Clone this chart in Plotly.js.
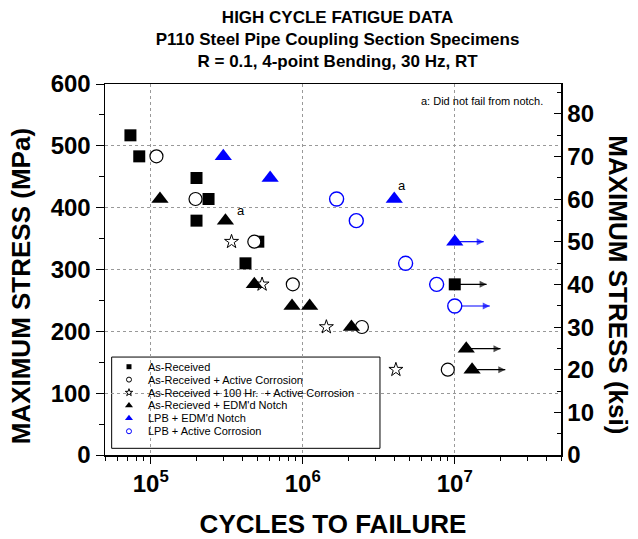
<!DOCTYPE html>
<html>
<head>
<meta charset="utf-8">
<script src="https://cdn.plot.ly/plotly-3.0.1.min.js"></script>
<style>html,body{margin:0;padding:0;background:#fff}#chart{width:638px;height:539px}</style>
</head>
<body>
<div id="chart"></div>
<script>
// ---- data (cycles to failure, maximum stress in MPa) ----
const asReceivedN = [7.35e4, 8.4e4, 2.0e5, 2.4e5, 2.0e5, 5.1e5, 4.2e5, 1.0e7];
const asReceivedS = [517, 483, 448, 414, 379, 345, 310, 276];

const activeCorrN = [1.09e5, 1.97e5, 4.8e5, 8.6e5, 2.45e6, 9.0e6];
const activeCorrS = [483, 414, 345, 276, 207, 138];

const corr100hN = [3.4e5, 5.4e5, 1.43e6, 4.1e6];
const corr100hS = [345, 276, 207, 138];

const edmNotchN = [1.15e5, 3.1e5, 4.8e5, 8.5e5, 1.11e6, 2.09e6, 1.19e7, 1.3e7];
const edmNotchS = [414, 379, 276, 241, 241, 207, 172, 138];

const lpbNotchN = [3.0e5, 6.1e5, 4.0e6, 1.0e7];
const lpbNotchS = [483, 448, 414, 345];

const lpbCorrN = [1.67e6, 2.25e6, 4.75e6, 7.6e6, 1.0e7];
const lpbCorrS = [414, 379, 310, 276, 241];

// run-outs (did not fail): start point and arrow end
const runoutN    = [1.0e7, 1.0e7, 1.0e7, 1.19e7, 1.3e7];
const runoutS    = [276, 345, 241, 172, 138];
const runoutEndN = [1.62e7, 1.55e7, 1.7e7, 2.0e7, 2.15e7];
const runoutSeries = [0, 4, 5, 3, 3];

// "a" notes: did not fail from notch
const noteN = [3.1e5, 4.0e6];
const noteS = [379, 414];

const seriesNames = [
  'As-Received',
  'As-Received + Active Corrosion',
  'As-Received + 100 Hr.  + Active Corrosion',
  "As-Recieved + EDM'd Notch",
  "LPB + EDM'd Notch",
  'LPB + Active Corrosion'
];

const MPA_PER_KSI = 6.894757;
const yMax = 600;

// ---- styles ----
const FONT = 'Liberation Sans, Arial, Helvetica, sans-serif';
const BLUE = '#0000ff';
const seriesColors = ['#000', '#000', '#000', '#000', BLUE, BLUE];
const styles = [
  {symbol: 'square', size: 12, color: '#000', line: {width: 0}},
  {symbol: 'circle', size: 13, color: '#fff', line: {color: '#000', width: 1.2}},
  {symbol: 'star', size: 10.5, color: '#fff', line: {color: '#000', width: 1}},
  {symbol: 'triangle-up', size: 15, color: '#000', line: {width: 0}},
  {symbol: 'triangle-up', size: 15, color: BLUE, line: {width: 0}},
  {symbol: 'circle', size: 14, color: '#fff', line: {color: BLUE, width: 1.4}}
];
const legendStyles = [
  {symbol: 'square', size: 5, color: '#000', line: {width: 0}},
  {symbol: 'circle', size: 5, color: '#fff', line: {color: '#000', width: 1}},
  {symbol: 'star', size: 5.5, color: '#fff', line: {color: '#000', width: 1}},
  {symbol: 'triangle-up', size: 7, color: '#000', line: {width: 0}},
  {symbol: 'triangle-up', size: 7, color: BLUE, line: {width: 0}},
  {symbol: 'circle', size: 5, color: '#fff', line: {color: BLUE, width: 1}}
];

// legend box layout (fractions of the plot area)
const LEG = {x0: 0.0146, x1: 0.603, y0: 0.018, y1: 0.264, symX: 0.0526, textX: 0.09, row0: 0.238, rowStep: 0.0348};

const dataX = [asReceivedN, activeCorrN, corr100hN, edmNotchN, lpbNotchN, lpbCorrN];
const dataY = [asReceivedS, activeCorrS, corr100hS, edmNotchS, lpbNotchS, lpbCorrS];

const traces = [];
// run-out arrows (drawn first, under the markers)
runoutN.forEach((n, i) => {
  const c = seriesColors[runoutSeries[i]];
  traces.push({
    type: 'scatter', mode: 'lines+markers', x: [n, runoutEndN[i]], y: [runoutS[i], runoutS[i]],
    line: {color: c, width: 1.2}, showlegend: false, hoverinfo: 'skip',
    marker: {symbol: 'arrow-right', size: [0, 7], color: c, line: {width: 0}}
  });
});
// data traces
dataX.forEach((xs, i) => {
  traces.push({
    type: 'scatter', mode: 'markers', x: xs, y: dataY[i],
    name: seriesNames[i], showlegend: false, cliponaxis: false,
    marker: styles[i]
  });
});
// carrier for the ksi axis
traces.push({type: 'scatter', mode: 'markers', x: [null], y: [null], yaxis: 'y2', showlegend: false, hoverinfo: 'skip'});
// legend symbols (on an overlay 0..1 frame)
seriesNames.forEach((nm, i) => {
  traces.push({
    type: 'scatter', mode: 'markers', xaxis: 'x3', yaxis: 'y3',
    x: [LEG.symX], y: [LEG.row0 - i * LEG.rowStep], name: nm, showlegend: false, hoverinfo: 'skip',
    marker: legendStyles[i]
  });
});

const annotations = [];
const noteShift = [[16, 10], [8, 14]];
noteN.forEach((n, i) => {
  annotations.push({
    xref: 'x', yref: 'y', x: Math.log10(n), y: noteS[i], text: 'a', showarrow: false,
    xshift: noteShift[i][0], yshift: noteShift[i][1],
    font: {family: FONT, size: 13, color: '#000'}
  });
});
seriesNames.forEach((nm, i) => {
  annotations.push({
    xref: 'paper', yref: 'paper', x: LEG.textX, y: LEG.row0 - i * LEG.rowStep,
    xanchor: 'left', yanchor: 'middle', text: nm, showarrow: false,
    font: {family: FONT, size: 11, color: '#000'}
  });
});
annotations.push({
  xref: 'paper', yref: 'paper', x: 0.965, y: 0.955, xanchor: 'right', yanchor: 'middle',
  text: 'a: Did not fail from notch.', showarrow: false,
  font: {family: FONT, size: 11, color: '#000'}
});
annotations.push({
  xref: 'paper', yref: 'paper', x: -0.184, y: 0.455, xanchor: 'center', yanchor: 'middle',
  text: 'MAXIMUM STRESS (MPa)', textangle: -90, showarrow: false,
  font: {family: FONT, size: 26, weight: 'bold', color: '#000'}
});
annotations.push({
  xref: 'paper', yref: 'paper', x: 1.125, y: 0.46, xanchor: 'center', yanchor: 'middle',
  text: 'MAXIMUM STRESS (ksi)', textangle: 90, showarrow: false,
  font: {family: FONT, size: 26, weight: 'bold', color: '#000'}
});

const tickFont = {family: FONT, size: 24, weight: 'bold', color: '#000'};

const layout = {
  width: 638, height: 539,
  margin: {l: 105, r: 77, t: 84, b: 84, pad: 0},
  paper_bgcolor: '#fff', plot_bgcolor: '#fff',
  font: {family: FONT, color: '#000'},
  showlegend: false,
  title: {
    text: 'HIGH CYCLE FATIGUE DATA<br>P110 Steel Pipe Coupling Section Specimens<br>R = 0.1, 4-point Bending, 30 Hz, RT',
    font: {family: FONT, size: 17, weight: 'bold', color: '#000'},
    xref: 'paper', x: 0.51, xanchor: 'center',
    yref: 'container', y: 0.957, yanchor: 'top'
  },
  xaxis: {
    type: 'log', range: [Math.log10(5e4), Math.log10(5e7)],
    tickmode: 'array', tickvals: [1e5, 1e6, 1e7],
    ticktext: ['10<sup>5</sup>', '10<sup>6</sup>', '10<sup>7</sup>'],
    ticks: 'outside', ticklen: 7, tickwidth: 1, tickcolor: '#000',
    minor: {dtick: 'D1', ticks: 'outside', ticklen: 4, tickwidth: 1, tickcolor: '#000', showgrid: false},
    showline: true, linecolor: '#000', linewidth: 1.5, mirror: true,
    showgrid: true, gridcolor: '#999', griddash: 'dot', gridwidth: 1,
    zeroline: false, tickfont: tickFont,
    title: {text: 'CYCLES TO FAILURE', font: {family: FONT, size: 26, weight: 'bold', color: '#000'}, standoff: 20}
  },
  yaxis: {
    range: [0, yMax], dtick: 100, tick0: 0,
    ticks: 'outside', ticklen: 8, tickwidth: 1, tickcolor: '#000',
    minor: {dtick: 50, ticks: 'outside', ticklen: 5, tickwidth: 1, tickcolor: '#000', showgrid: false},
    showline: true, linecolor: '#000', linewidth: 1.5,
    showgrid: true, gridcolor: '#999', griddash: 'dot', gridwidth: 1,
    zeroline: false, tickfont: tickFont
  },
  yaxis2: {
    overlaying: 'y', side: 'right', anchor: 'x',
    range: [0, yMax / MPA_PER_KSI], dtick: 10, tick0: 0,
    ticks: 'inside', ticklen: 7, tickwidth: 1, tickcolor: '#000',
    minor: {dtick: 5, ticks: 'inside', ticklen: 4, tickwidth: 1, tickcolor: '#000', showgrid: false},
    showline: true, linecolor: '#000', linewidth: 1.5,
    showgrid: false, zeroline: false, tickfont: tickFont
  },
  xaxis3: {overlaying: 'x', anchor: 'y3', range: [0, 1], visible: false, fixedrange: true},
  yaxis3: {overlaying: 'y', anchor: 'x3', range: [0, 1], visible: false, fixedrange: true},
  shapes: [{
    type: 'rect', xref: 'x3', yref: 'y3', layer: 'below',
    x0: LEG.x0, x1: LEG.x1, y0: LEG.y0, y1: LEG.y1,
    fillcolor: '#fff', line: {color: '#000', width: 1}
  }],
  annotations: annotations
};

Plotly.newPlot('chart', traces, layout, {displayModeBar: false, staticPlot: true});
</script>
</body>
</html>
